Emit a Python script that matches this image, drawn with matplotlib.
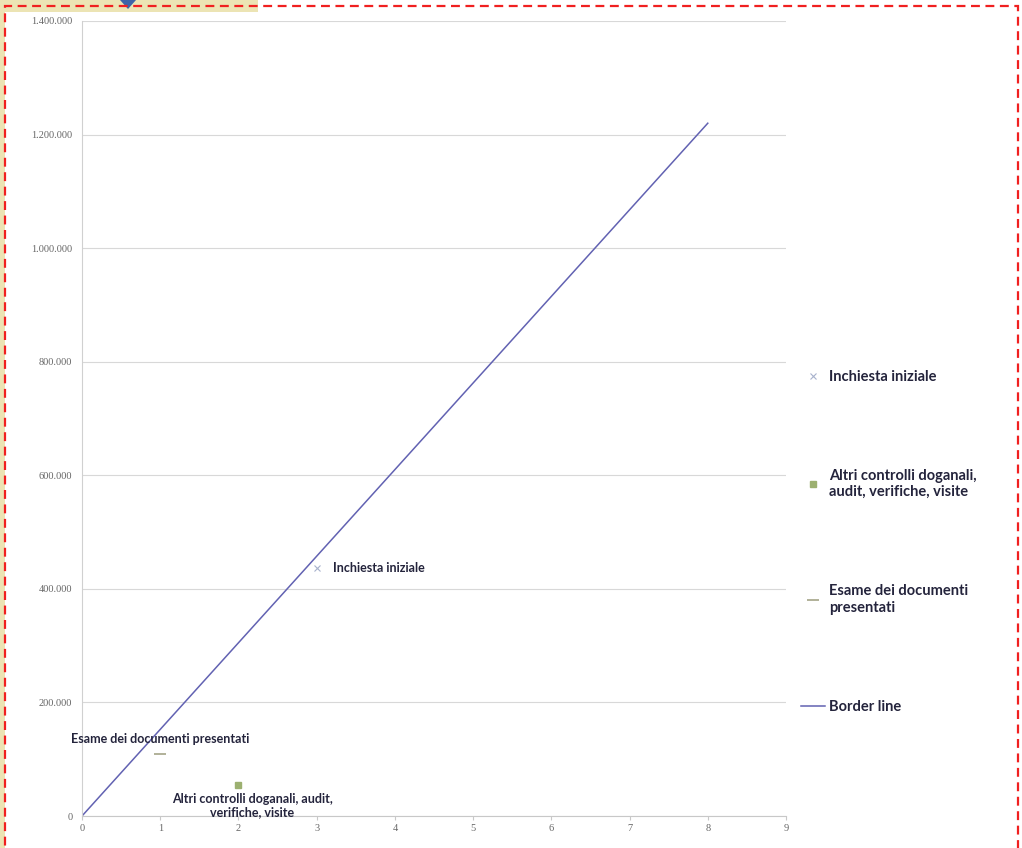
import matplotlib
matplotlib.use('Agg')
import matplotlib.pyplot as plt
from matplotlib.patches import Rectangle, Polygon
from matplotlib.ticker import FuncFormatter
import numpy as np

# data
border_x = [0, 8]
border_y = [0, 1220000]

inchiesta_x = [3]
inchiesta_y = [437000]

altri_x = [2]
altri_y = [55000]

esame_x = [1]
esame_y = [110000]

x_ticks = list(range(0, 10))
y_ticks = list(range(0, 1400001, 200000))

label_inchiesta = 'Inchiesta iniziale'
label_altri = 'Altri controlli doganali,\naudit, verifiche, visite'
label_altri_pt = 'Altri controlli doganali, audit,\nverifiche, visite'
label_esame = 'Esame dei documenti\npresentati'
label_esame_pt = 'Esame dei documenti presentati'
label_border = 'Border line'

txt_color = '#24243c'
line_color = '#6262b2'

fig = plt.figure(figsize=(10.22, 8.48), dpi=100)
fig.patch.set_facecolor('white')

# page decoration: beige strip, blue pointer, red dashed frame
fig.patches.append(Rectangle((0, 1 - 12 / 848), 258 / 1022, 12 / 848, transform=fig.transFigure,
                             facecolor='#ece4b4', edgecolor='none', zorder=0))
fig.patches.append(Rectangle((0, 0), 5 / 1022, 1, transform=fig.transFigure,
                             facecolor='#ece4b4', edgecolor='none', zorder=0))
fig.patches.append(Polygon([(120 / 1022, 1.0), (136 / 1022, 1.0), (128 / 1022, 1 - 9 / 848)],
                           closed=True, transform=fig.transFigure, facecolor='#3d64a8',
                           edgecolor='none', zorder=1))
fig.patches.append(Rectangle((5 / 1022, -0.01), 1013 / 1022, 1 - 6 / 848 + 0.01, transform=fig.transFigure,
                             facecolor='none', edgecolor='#f02020', linestyle=(0, (4, 2.5)),
                             linewidth=1.6, zorder=5))

ax = fig.add_axes([82 / 1022, 1 - 816 / 848, (786 - 82) / 1022, (816 - 21) / 848])
ax.set_xlim(0, 9)
ax.set_ylim(0, 1400000)

ax.plot(inchiesta_x, inchiesta_y, linestyle='none', marker='x', markersize=5,
        color='#a8b2cc', mew=0.8, label=label_inchiesta)
ax.plot(altri_x, altri_y, linestyle='none', marker='s', markersize=4,
        color='#9cb070', label=label_altri)
ax.plot(esame_x, esame_y, linestyle='none', marker='_', markersize=9,
        color='#a4a488', mew=1.2, label=label_esame)
ax.plot(border_x, border_y, color=line_color, linewidth=1.1, label=label_border)

ax.annotate(label_inchiesta, (inchiesta_x[0], inchiesta_y[0]), xytext=(12, 0),
            textcoords='offset points', ha='left', va='center', fontsize=9,
            fontweight='bold', color=txt_color, family='Lato')
ax.annotate(label_esame_pt, (esame_x[0], esame_y[0]), xytext=(0, 6),
            textcoords='offset points', ha='center', va='bottom', fontsize=9,
            fontweight='bold', color=txt_color, family='Lato')
ax.annotate(label_altri_pt, (altri_x[0], altri_y[0]), xytext=(10, -6),
            textcoords='offset points', ha='center', va='top', fontsize=9,
            fontweight='bold', color=txt_color, family='Lato', linespacing=1.05)

ax.set_xticks(x_ticks)
ax.set_yticks(y_ticks)
ax.yaxis.set_major_formatter(FuncFormatter(lambda v, p: f'{int(v):,}'.replace(',', '.')))
ax.grid(True, axis='y', color='#d8d8d8', linewidth=0.8)
ax.set_axisbelow(True)
for s in ['top', 'right']:
    ax.spines[s].set_visible(False)
ax.spines['left'].set_color('#d0d0d0')
ax.spines['bottom'].set_color('#c8c8c8')
ax.tick_params(axis='y', length=0, pad=7, labelsize=7.5, labelcolor='#666666')
ax.tick_params(axis='x', length=3, color='#c8c8c8', pad=3, labelsize=7.5, labelcolor='#666666')
for t in ax.get_xticklabels() + ax.get_yticklabels():
    t.set_family('Liberation Serif')

leg = ax.legend(loc='upper left', bbox_to_anchor=(1.003, 0.578), frameon=False,
                prop={'family': 'Lato', 'weight': 'bold', 'size': 10.5},
                labelspacing=5.85, handlelength=1.6, handletextpad=0.3)
for t in leg.get_texts():
    t.set_color(txt_color)

fig.savefig('out.png', dpi=100, facecolor=fig.get_facecolor())
